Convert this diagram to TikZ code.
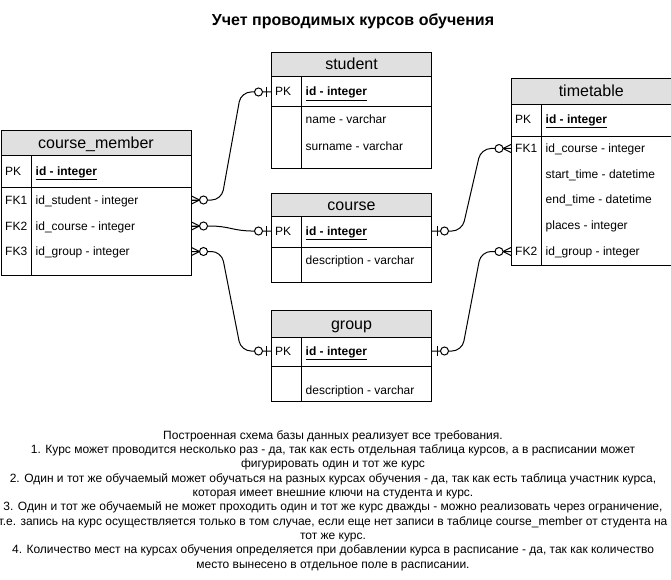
\documentclass[tikz,border=0pt]{standalone}
\usepackage{fontspec}
\setmainfont{Liberation Sans}
\usetikzlibrary{calc}
\definecolor{hdrgray}{HTML}{E0E0E0}
\tikzset{
  tbl/.style={draw=black, line width=1pt, fill=white, inner sep=0pt, anchor=north west},
  hdr/.style={draw=black, line width=1pt, fill=hdrgray, inner sep=0pt, anchor=north west,
    font=\fontsize{16}{19}\selectfont, text height=10pt, text depth=0pt},
  fld/.style={anchor=west, inner sep=0pt, text height=8pt, text depth=0pt,
    font=\fontsize{12}{14}\selectfont},
  sepline/.style={line width=1pt, draw=black},
  conn/.style={line width=1pt, draw=black, rounded corners=10pt},
  erc/.style={draw=black, fill=white, line width=1pt},
  zmany/.pic={\draw[line width=1pt] (0,-4) -- (8,0) -- (0,4); \draw[line width=1pt] (0,0) -- (8,0);
              \draw[erc] (12,0) circle (4);},
  zone/.pic={\draw[line width=1pt] (-5,-5) -- (-5,5); \draw[erc] (-12.5,0) circle (4);},
}
\begin{document}
\begin{tikzpicture}[x=1pt,y=-1pt]
\useasboundingbox (0,0) rectangle (671,580);

% title
\node[font=\fontsize{16}{19}\selectfont\bfseries, inner sep=0pt, text height=11pt, text depth=0pt] (title) at (353,20) {Учет проводимых курсов обучения};

% ---------- course_member ----------
\node[tbl, minimum width=190pt, minimum height=144pt] (cm) at (0.5,130.5) {};
\node[hdr, minimum width=190pt, minimum height=25pt] (cmh) at (cm.north west) {course\_member};
\draw[sepline] (0.5,187.5) -- (190.5,187.5);
\draw[sepline] (31,155.5) -- (31,274.5);
\node[fld] (cmpk) at (5,171.5) {PK};
\node[fld] (cmid) at (35.5,171.5) {\underline{\textbf{id - integer}}};
\node[fld] (cmk1) at (5,200) {FK1};
\node[fld] (cmf1) at (35.5,200) {id\_student - integer};
\node[fld] (cmk2) at (5,226) {FK2};
\node[fld] (cmf2) at (35.5,226) {id\_course - integer};
\node[fld] (cmk3) at (5,251.5) {FK3};
\node[fld] (cmf3) at (35.5,251.5) {id\_group - integer};

% ---------- student ----------
\node[tbl, minimum width=160pt, minimum height=116pt] (st) at (271,52) {};
\node[hdr, minimum width=160pt, minimum height=24pt] (sth) at (st.north west) {student};
\draw[sepline] (271,107) -- (431,107);
\draw[sepline] (301,76) -- (301,168);
\node[fld] (stpk) at (275,92) {PK};
\node[fld] (stid) at (305.5,92) {\underline{\textbf{id - integer}}};
\node[fld] (stf1) at (305.5,120) {name - varchar};
\node[fld] (stf2) at (305.5,146) {surname - varchar};

% ---------- course ----------
\node[tbl, minimum width=160pt, minimum height=89pt] (co) at (271,193) {};
\node[hdr, minimum width=160pt, minimum height=23pt] (coh) at (co.north west) {course};
\draw[sepline] (271,247) -- (431,247);
\draw[sepline] (301,216) -- (301,282);
\node[fld] (copk) at (275,231) {PK};
\node[fld] (coid) at (305.5,231) {\underline{\textbf{id - integer}}};
\node[fld] (cof1) at (305.5,260) {description - varchar};

% ---------- group ----------
\node[tbl, minimum width=160pt, minimum height=91pt] (gr) at (271,310) {};
\node[hdr, minimum width=160pt, minimum height=27pt] (grh) at (gr.north west) {group};
\draw[sepline] (271,366) -- (431,366);
\draw[sepline] (301,337) -- (301,401);
\node[fld] (grpk) at (275,351) {PK};
\node[fld] (grid) at (305.5,351) {\underline{\textbf{id - integer}}};
\node[fld] (grf1) at (305.5,390) {description - varchar};

% ---------- timetable ----------
\node[tbl, minimum width=159.5pt, minimum height=186pt] (tt) at (511,78.5) {};
\node[hdr, minimum width=159.5pt, minimum height=25.5pt] (tth) at (tt.north west) {timetable};
\draw[sepline] (511,137) -- (670.5,137);
\draw[sepline] (541,104) -- (541,264.5);
\node[fld] (ttpk) at (515,119.5) {PK};
\node[fld] (ttid) at (545.5,119.5) {\underline{\textbf{id - integer}}};
\node[fld] (ttk1) at (515,148.5) {FK1};
\node[fld] (ttf1) at (545.5,148.5) {id\_course - integer};
\node[fld] (ttf2) at (545.5,174.5) {start\_time - datetime};
\node[fld] (ttf3) at (545.5,199.5) {end\_time - datetime};
\node[fld] (ttf4) at (545.5,225) {places - integer};
\node[fld] (ttk2) at (515,251.5) {FK2};
\node[fld] (ttf5) at (545.5,251.5) {id\_group - integer};

% ---------- connectors ----------
\draw[conn] (cmk1 -| cm.east) -- ++(30,0) -- ($(stpk -| st.west)+(-30,0)$) -- (stpk -| st.west);
\draw[conn] (cmk2 -| cm.east) -- ++(30,0) -- ($(copk -| co.west)+(-30,0)$) -- (copk -| co.west);
\draw[conn] (cmk3 -| cm.east) -- ++(30,0) -- ($(grpk -| gr.west)+(-30,0)$) -- (grpk -| gr.west);
\draw[conn] (copk -| co.east) -- ++(30,0) -- ($(ttk1 -| tt.west)+(-30,0)$) -- (ttk1 -| tt.west);
\draw[conn] (grpk -| gr.east) -- ++(30,0) -- ($(ttk2 -| tt.west)+(-30,0)$) -- (ttk2 -| tt.west);

\pic at (cmk1 -| cm.east) {zmany};
\pic at (cmk2 -| cm.east) {zmany};
\pic at (cmk3 -| cm.east) {zmany};
\pic at (stpk -| st.west) {zone};
\pic at (copk -| co.west) {zone};
\pic at (grpk -| gr.west) {zone};
\pic[xscale=-1] at (copk -| co.east) {zone};
\pic[xscale=-1] at (grpk -| gr.east) {zone};
\pic[xscale=-1] at (ttk1 -| tt.west) {zmany};
\pic[xscale=-1] at (ttk2 -| tt.west) {zmany};

% ---------- notes ----------
\node[anchor=north, inner sep=0pt, align=center, font=\fontsize{12}{14.35}\selectfont] (notes) at (333,430) {%
Построенная схема базы данных реализует все требования.\\
1. Курс может проводится несколько раз - да, так как есть отдельная таблица курсов, а в расписании может\\
фигурировать один и тот же курс\\
2. Один и тот же обучаемый может обучаться на разных курсах обучения - да, так как есть таблица участник курса,\\
которая имеет внешние ключи на студента и курс.\\
3. Один и тот же обучаемый не может проходить один и тот же курс дважды - можно реализовать через ограничение,\\
т.е. запись на курс осуществляется только в том случае, если еще нет записи в таблице course\_member от студента на\\
тот же курс.\\
4. Количество мест на курсах обучения определяется при добавлении курса в расписание - да, так как количество\\
место вынесено в отдельное поле в расписании.};
\end{tikzpicture}
\end{document}
